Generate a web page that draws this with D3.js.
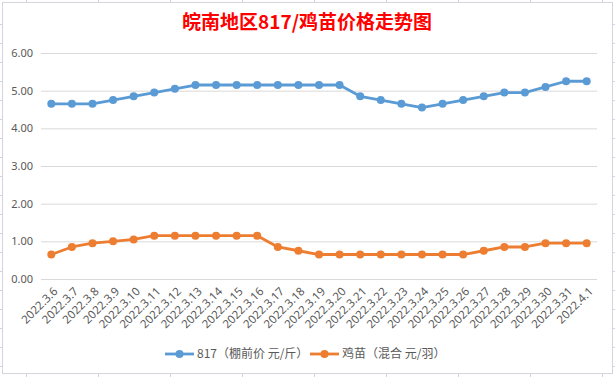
<!DOCTYPE html>
<html>
<head>
<meta charset="utf-8">
<script src="https://cdn.jsdelivr.net/npm/d3@7"></script>
<style>
  body { margin: 0; background: #fff; }
  svg { display: block; font-family: "Noto Sans CJK SC", "Noto Sans", sans-serif; }
</style>
</head>
<body>
<div id="chart"></div>
<script>
// dates on the x axis
const dates = ["2022.3.6", "2022.3.7", "2022.3.8", "2022.3.9", "2022.3.10", "2022.3.11",
    "2022.3.12", "2022.3.13", "2022.3.14", "2022.3.15", "2022.3.16", "2022.3.17",
    "2022.3.18", "2022.3.19", "2022.3.20", "2022.3.21", "2022.3.22", "2022.3.23",
    "2022.3.24", "2022.3.25", "2022.3.26", "2022.3.27", "2022.3.28", "2022.3.29",
    "2022.3.30", "2022.3.31", "2022.4.1"]

// 817 (shed price, yuan per jin)
const price817 = [4.65, 4.65, 4.65, 4.75, 4.85, 4.95, 5.05, 5.15, 5.15, 5.15, 5.15, 5.15,
    5.15, 5.15, 5.15, 4.85, 4.75, 4.65, 4.55, 4.65, 4.75, 4.85, 4.95, 4.95, 5.1, 5.25, 5.25]

// chicks (mixed, yuan each)
const priceChick = [0.65, 0.85, 0.95, 1.0, 1.05, 1.15, 1.15, 1.15, 1.15, 1.15, 1.15, 0.85,
    0.75, 0.65, 0.65, 0.65, 0.65, 0.65, 0.65, 0.65, 0.65, 0.75, 0.85, 0.85, 0.95, 0.95, 0.95]

const yTicks = [0, 1, 2, 3, 4, 5, 6]
const seriesNames = ["817（棚前价 元/斤）", "鸡苗（混合 元/羽）"]
const colors = ["#5B9BD5", "#ED7D31"]
const title = "皖南地区817/鸡苗价格走势图"

const W = 615, H = 377
const margin = {top: 53, right: 18, bottom: 98, left: 41}
const width = W - margin.left - margin.right
const height = H - margin.top - margin.bottom

const svg = d3.select("#chart").append("svg")
    .attr("width", W)
    .attr("height", H)

// spreadsheet cells peeking around the chart box
const bg = svg.append("g").attr("stroke", "#D4D4DE").attr("stroke-width", 1)
d3.range(26.5, W, 72).forEach(x => {
    bg.append("line").attr("x1", x).attr("x2", x).attr("y1", 0).attr("y2", 3)
    bg.append("line").attr("x1", x).attr("x2", x).attr("y1", H - 4).attr("y2", H)
})
d3.range(24.5, H, 19).forEach(y => {
    bg.append("line").attr("x1", 0).attr("x2", 3).attr("y1", y).attr("y2", y)
    bg.append("line").attr("x1", W - 3).attr("x2", W).attr("y1", y).attr("y2", y)
})

// chart box
svg.append("rect")
    .attr("x", 2.5).attr("y", 2.5)
    .attr("width", 610).attr("height", 371)
    .attr("fill", "#fff")
    .attr("stroke", "#D4D4DE")

svg.append("text")
    .attr("x", 307)
    .attr("y", 29)
    .attr("text-anchor", "middle")
    .attr("fill", "#FF0000")
    .attr("font-size", "19px")
    .attr("font-weight", "bold")
    .text(title)

const g = svg.append("g")
    .attr("transform", `translate(${margin.left},${margin.top})`)

const x = d3.scaleBand()
    .domain(dates)
    .range([0, width])

const y = d3.scaleLinear()
    .domain([0, 6])
    .range([height, 0])

// gridlines + y labels
g.append("g")
    .call(d3.axisLeft(y).tickValues(yTicks).tickSize(-width).tickFormat(d3.format(".2f")))
    .call(a => a.select(".domain").remove())
    .call(a => a.selectAll(".tick line").attr("stroke", "#D9D9D9"))
    .call(a => a.selectAll(".tick text")
        .attr("x", -8)
        .attr("fill", "#595959")
        .attr("font-size", "11px")
        .attr("font-family", "Noto Sans, sans-serif"))

// x labels
g.append("g")
    .attr("transform", `translate(0,${height})`)
    .call(d3.axisBottom(x).tickSize(0))
    .call(a => a.select(".domain").remove())
    .call(a => a.selectAll(".tick text")
        .attr("fill", "#595959")
        .attr("font-size", "11.5px")
        .attr("font-family", "Noto Sans, sans-serif")
        .attr("text-anchor", "end")
        .attr("dy", 0)
        .attr("transform", "translate(5,11) rotate(-45)"))

const cx = d => x(d) + x.bandwidth() / 2

const line = d3.line()
    .x((d, i) => cx(dates[i]))
    .y(d => y(d))

;[price817, priceChick].forEach((series, s) => {
    g.append("path")
        .datum(series)
        .attr("fill", "none")
        .attr("stroke", colors[s])
        .attr("stroke-width", 2.8)
        .attr("stroke-linejoin", "round")
        .attr("d", line)

    g.selectAll(".pt" + s)
        .data(series)
        .join("circle")
        .attr("class", "pt" + s)
        .attr("cx", (d, i) => cx(dates[i]))
        .attr("cy", d => y(d))
        .attr("r", 4)
        .attr("fill", colors[s])
})

// legend
const legendX = [165, 310]
const legend = svg.append("g").attr("transform", "translate(0,354)")
seriesNames.forEach((name, i) => {
    const lg = legend.append("g").attr("transform", `translate(${legendX[i]},0)`)
    lg.append("line")
        .attr("x1", 0).attr("x2", 29)
        .attr("stroke", colors[i])
        .attr("stroke-width", 2.8)
    lg.append("circle")
        .attr("cx", 14.5).attr("r", 4)
        .attr("fill", colors[i])
    lg.append("text")
        .attr("x", 32)
        .attr("dy", "0.35em")
        .attr("fill", "#595959")
        .attr("font-size", "12px")
        .text(name)
})
</script>
</body>
</html>
